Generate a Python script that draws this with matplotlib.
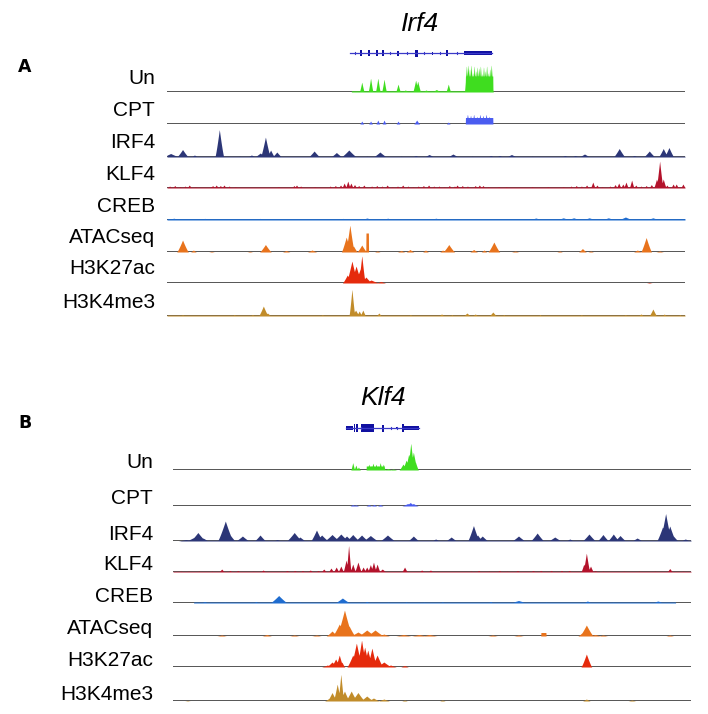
import numpy as np
import matplotlib
matplotlib.use("Agg")
import matplotlib.pyplot as plt
from matplotlib.patches import Rectangle

# track names (same order in both panels)
tracks = ["Un", "CPT", "IRF4", "KLF4", "CREB", "ATACseq", "H3K27ac", "H3K4me3"]
colors = ["#3fdd1f", "#4a5cf0", "#2c3677", "#b3122b", "#1f6ccf", "#e8731c", "#e52a0c", "#c18c2a"]

# ---------------- Irf4 locus (window position 0-100, signal in px) ----------
# peaks: (position, height, half width); blocks: (start, end, height)
irf4_un = [(37.6, 10, 0.25), (39.3, 14, 0.25), (40.7, 14, 0.25), (41.9, 13, 0.25),
           (44.6, 8, 0.25), (48.0, 12, 0.3), (48.4, 11, 0.3), (54.3, 8, 0.25),
           (46.0, 2, 0.5), (50.0, 2, 0.5), (52.0, 2.5, 0.5),
           (57.8, 27, 0.2), (58.1, 28, 0.2), (58.4, 24, 0.2), (58.7, 28, 0.2), (59.0, 20, 0.2),
           (59.3, 27, 0.2), (59.6, 22, 0.2), (59.9, 26, 0.2), (60.2, 25, 0.2), (60.5, 27, 0.2),
           (60.8, 19, 0.2), (61.1, 26, 0.2), (61.4, 22, 0.2), (61.7, 27, 0.2), (62.0, 20, 0.2),
           (62.3, 24, 0.2), (62.6, 28, 0.2)]
irf4_un_blocks = [(35.6, 57.6, 1.2), (57.6, 62.9, 16)]

irf4_cpt = [(37.6, 3, 0.2), (39.3, 3, 0.2), (40.7, 4, 0.2), (41.9, 4, 0.2), (44.6, 3, 0.2),
            (48.2, 4, 0.3), (54.3, 2, 0.2), (58.0, 10, 0.2), (58.6, 9, 0.2), (59.2, 10, 0.2),
            (59.8, 8, 0.2), (60.4, 10, 0.2), (61.0, 9, 0.2), (61.6, 10, 0.2), (62.2, 8, 0.2)]
irf4_cpt_blocks = [(57.6, 62.9, 6.5)]

irf4_irf4 = [(0.7, 3.5, 0.9), (3.0, 7.5, 0.6), (5.3, 2, 0.4), (10.1, 27.5, 0.45), (14.0, 1, 0.5),
             (16.3, 2, 0.5), (18.0, 4, 0.6), (19.0, 20, 0.5), (20.0, 7, 0.4), (21.2, 5, 0.5),
             (28.4, 6, 0.6), (32.7, 4.5, 0.6), (35.1, 7, 0.8), (38.6, 1, 0.5), (41.1, 5, 0.7),
             (45.2, 1, 0.5), (48.0, 1.5, 0.5), (50.6, 2.5, 0.6), (55.2, 3, 0.6), (58.9, 1, 0.5),
             (62.5, 1.5, 0.5), (64.2, 1.5, 0.5), (66.5, 2.5, 0.6), (70.5, 1, 0.5), (76.8, 1.5, 0.5),
             (78.8, 1.5, 0.5), (80.6, 3, 0.6), (87.3, 8.5, 0.6), (90.2, 1.5, 0.5), (93.1, 6, 0.6),
             (95.8, 8.5, 0.5), (96.9, 9.5, 0.5)]
irf4_irf4_blocks = [(0, 100, 0.8)]

irf4_klf4 = [(0.5, 2, 0.25), (1.5, 2.5, 0.25), (2.5, 1.5, 0.25), (3.5, 2, 0.25), (4.3, 3, 0.25),
             (5.5, 1.5, 0.25), (7.0, 1, 0.25), (8.5, 1.5, 0.25), (8.8, 2.5, 0.25), (9.5, 3, 0.25),
             (10.3, 2.5, 0.25), (11.0, 3, 0.25), (12.0, 2, 0.25), (13.2, 1.5, 0.25), (14.5, 1, 0.25),
             (15.5, 1, 0.25), (17.0, 1, 0.25), (18.5, 1, 0.25), (20.0, 1, 0.25), (21.5, 1.5, 0.25),
             (23.0, 1, 0.25), (24.5, 2.5, 0.25), (25.0, 3, 0.25), (25.8, 2, 0.25), (27.0, 1, 0.25),
             (28.5, 1.5, 0.25), (30.0, 1, 0.25), (31.5, 2, 0.25), (32.5, 2.5, 0.25), (33.5, 3, 0.25),
             (34.2, 5, 0.25), (34.9, 7, 0.25), (35.5, 5, 0.25), (36.2, 3.5, 0.25), (37.0, 2.5, 0.25),
             (38.0, 3, 0.25), (39.5, 2, 0.25), (40.5, 2.5, 0.25), (41.5, 2, 0.25), (42.5, 3, 0.25),
             (43.5, 1.5, 0.25), (44.5, 2, 0.25), (45.5, 3, 0.25), (46.5, 2, 0.25), (47.5, 1.5, 0.25),
             (48.5, 2, 0.25), (49.5, 2.5, 0.25), (50.5, 3, 0.25), (51.5, 2, 0.25), (52.5, 2, 0.25),
             (53.5, 1.5, 0.25), (54.5, 2.5, 0.25), (55.5, 2, 0.25), (56.0, 3, 0.25), (57.0, 2.5, 0.25),
             (58.0, 2, 0.25), (59.5, 2.5, 0.25), (60.3, 3, 0.25), (61.0, 2.5, 0.25), (62.0, 1.5, 0.25),
             (63.0, 1, 0.25), (64.0, 1.5, 0.25), (65.5, 1.5, 0.25), (67.0, 1, 0.25), (69.0, 1, 0.25),
             (70.5, 1.5, 0.25), (72.0, 1, 0.25), (73.5, 1.5, 0.25), (75.0, 1, 0.25), (76.5, 1.5, 0.25),
             (78.0, 2, 0.25), (79.0, 2.5, 0.25), (80.0, 2, 0.25), (81.0, 3, 0.25), (82.2, 6, 0.25),
             (83.0, 3, 0.25), (84.0, 1.5, 0.25), (85.5, 2, 0.25), (86.5, 3.5, 0.25), (87.2, 5, 0.25),
             (88.0, 4, 0.25), (88.6, 6, 0.25), (89.7, 8, 0.25), (90.5, 3, 0.25), (91.5, 2, 0.25),
             (92.5, 2.5, 0.25), (93.5, 3.5, 0.25), (94.5, 9, 0.3), (95.1, 27, 0.35), (95.8, 9, 0.3),
             (96.5, 3, 0.25), (97.7, 4, 0.25), (98.3, 4, 0.25), (99.6, 4, 0.25)]
irf4_klf4_blocks = [(0, 100, 1.0)]

irf4_creb = [(1.3, 1.8, 0.8), (7.3, 1.6, 1.2), (18.0, 1.6, 0.8), (28.6, 1.4, 0.8), (34.0, 1.6, 0.8),
             (38.6, 2, 0.8), (42.6, 1.8, 0.8), (51.9, 1.8, 0.8), (61.2, 1.4, 0.8), (71.2, 2, 0.8),
             (76.5, 2.2, 0.8), (78.5, 2.2, 0.8), (81.5, 2.2, 0.8), (85.2, 2.2, 0.8), (88.5, 3, 0.8),
             (93.8, 2.2, 0.8), (97.0, 1.5, 0.8)]
irf4_creb_blocks = [(0, 100, 1.4)]

irf4_atac = [(3.0, 12, 0.6), (5.1, 2, 0.3), (8.6, 0.7, 0.3), (16.0, 0.7, 0.3), (19.0, 7.5, 0.6),
             (23.0, 1.5, 0.4), (28.0, 2, 0.5), (34.6, 15, 0.5), (35.3, 27, 0.45), (36.0, 6, 0.4),
             (37.6, 7, 0.5), (40.6, 1, 0.3), (45.2, 1.5, 0.4), (46.9, 2.5, 0.4), (49.9, 2, 0.3),
             (53.2, 2, 0.3), (54.4, 7.5, 0.6), (59.2, 2.5, 0.4), (61.2, 2, 0.3), (63.1, 10, 0.6),
             (67.2, 1, 0.4), (75.8, 1, 0.3), (80.2, 3.5, 0.4), (81.8, 1, 0.3), (90.8, 2, 0.4),
             (92.5, 14.5, 0.55), (95.1, 1, 0.4)]
irf4_atac_blocks = [(38.4, 38.9, 19)]

irf4_k27ac = [(34.8, 8, 0.5), (35.7, 22, 0.6), (36.5, 17, 0.6), (37.6, 27.5, 0.35), (37.3, 14, 0.6),
              (38.4, 6, 0.6), (39.4, 3, 0.8), (41.3, 1.5, 0.5), (93.1, 0.6, 0.3)]
irf4_k27ac_blocks = []

irf4_k4me3 = [(1.0, 1, 0.4), (3.0, 1.5, 0.3), (5.0, 1, 0.3), (10.5, 1, 0.4), (13.0, 1.5, 0.3),
              (16.5, 1.5, 0.4), (18.6, 10, 0.5), (19.4, 3, 0.4), (22.0, 1, 0.3), (26.0, 1, 0.3),
              (30.0, 1.5, 0.3), (35.7, 27, 0.3), (36.4, 6, 0.4), (37.1, 5, 0.3), (37.8, 6, 0.3),
              (40.9, 3, 0.3), (44.0, 1, 0.3), (47.0, 1.5, 0.3), (50.0, 1, 0.3), (53.0, 2, 0.4),
              (55.0, 1.5, 0.3), (57.9, 3, 0.4), (59.5, 2, 0.4), (62.9, 4, 0.4), (65.0, 1.5, 0.3),
              (68.0, 1, 0.3), (72.0, 1.5, 0.3), (76.0, 1, 0.3), (80.0, 1.5, 0.3), (84.0, 1, 0.3),
              (88.5, 1.5, 0.3), (91.5, 2, 0.4), (93.8, 7, 0.4), (96.0, 2, 0.3), (99.0, 1.5, 0.3)]
irf4_k4me3_blocks = [(0, 100, 1.0)]

# Irf4 gene model: thin line, exons (position, half height, width), thick UTR
irf4_gene_span = (35.3, 62.7)
irf4_exons = [(37.5, 3, 0.35), (39.0, 3, 0.35), (40.5, 3, 0.3), (41.7, 3, 0.3), (44.6, 2.5, 0.25),
              (48.1, 3.5, 0.6), (51.2, 1.5, 0.2), (54.1, 3, 0.3)]
irf4_utr = [(57.3, 62.7, 2.2)]
irf4_arrows = [36.3, 43.0, 46.3, 49.6, 52.7, 56.0]

# ---------------- Klf4 locus ----------------
klf4_un = [(34.7, 7.5, 0.2), (35.3, 5, 0.2), (35.8, 3, 0.2), (37.8, 6, 0.2), (38.3, 4.5, 0.2),
           (38.6, 7, 0.2), (39.2, 6, 0.2), (39.6, 4.5, 0.2), (40.0, 7.5, 0.2), (40.6, 6, 0.2),
           (41.5, 1.5, 0.4), (42.5, 1, 0.4),
           (44.4, 6, 0.4), (45.0, 10, 0.4), (45.5, 16, 0.4), (45.9, 27, 0.35), (46.4, 18, 0.4),
           (46.8, 8, 0.3)]
klf4_un_blocks = [(34.4, 36.0, 1.2), (37.3, 40.8, 4)]

klf4_cpt = [(34.7, 1.5, 0.3), (35.3, 1.2, 0.3), (37.8, 1.5, 0.3), (38.8, 1.5, 0.3), (40.0, 1.5, 0.3),
            (45.3, 2.5, 0.6), (45.8, 3.5, 0.5), (46.4, 2.5, 0.5)]
klf4_cpt_blocks = []

klf4_irf4 = [(2.5, 1.5, 0.8), (4.0, 3.5, 0.8), (4.8, 8.5, 0.8), (5.8, 3, 0.6), (10.1, 20, 0.8),
             (10.9, 7, 0.6), (13.4, 5, 0.7), (16.8, 6, 0.6), (20.1, 1.5, 0.6), (23.4, 8.5, 0.8),
             (24.5, 4, 0.6), (27.7, 11, 0.6), (28.7, 6, 0.7), (30.7, 6.5, 0.8), (32.4, 7, 0.8),
             (33.5, 5, 0.6), (34.7, 6.5, 0.7), (36.4, 6, 0.7), (38.1, 5.5, 0.8), (41.4, 6, 0.8),
             (46.4, 5, 0.6), (50.7, 2, 0.5), (53.7, 4, 0.6), (58.0, 15.5, 0.6), (58.8, 6, 0.5),
             (59.7, 5, 0.6), (66.7, 5, 0.7), (70.3, 8, 0.7), (73.7, 4, 0.7), (76.6, 2, 0.5),
             (80.3, 7, 0.7), (83.0, 6.5, 0.6), (85.0, 7, 0.6), (86.3, 5.5, 0.6), (89.6, 3, 0.6),
             (94.5, 14, 0.6), (95.1, 27.5, 0.6), (95.9, 15, 0.6), (96.6, 5, 0.5), (98.9, 2, 0.6)]
klf4_irf4_blocks = [(2.0, 100, 0.8)]

klf4_klf4 = [(1.5, 1, 0.3), (3.0, 1, 0.3), (5.0, 1, 0.3), (7.5, 1, 0.3), (9.4, 3, 0.3),
             (11.0, 1.5, 0.3), (12.5, 1.5, 0.3), (15.5, 1, 0.3), (17.4, 2, 0.3), (22.0, 1.5, 0.3),
             (23.5, 1.5, 0.3), (25.0, 1.5, 0.3), (26.5, 2, 0.3), (28.0, 1.5, 0.3), (29.1, 3, 0.3),
             (30.5, 4, 0.3), (31.5, 5, 0.3), (32.4, 6, 0.3), (33.4, 12, 0.3), (33.9, 27, 0.25),
             (34.7, 8, 0.3), (35.7, 10, 0.35), (36.7, 5, 0.3), (37.4, 5, 0.3), (38.1, 7.5, 0.3),
             (38.7, 10, 0.3), (39.4, 8, 0.3), (40.4, 3, 0.4), (44.7, 5, 0.3), (48.0, 2, 0.3),
             (49.7, 2, 0.3), (57.5, 1, 0.3), (59.0, 1.5, 0.3), (61.0, 1, 0.3), (63.0, 1.5, 0.3),
             (64.5, 1, 0.3), (66.5, 1.5, 0.3), (69.5, 1.5, 0.3), (71.0, 1.5, 0.3), (73.0, 1.5, 0.3),
             (75.0, 1.5, 0.3), (76.5, 1.5, 0.3), (79.3, 8, 0.3), (79.8, 19, 0.35), (80.6, 6, 0.3),
             (81.5, 1.5, 0.3), (83.0, 1, 0.3), (87.0, 1, 0.3), (90.0, 1, 0.3), (93.0, 1, 0.3),
             (95.9, 3.5, 0.3), (98.5, 1, 0.3)]
klf4_klf4_blocks = [(0, 100, 0.7)]

klf4_creb = [(6.1, 1.5, 0.7), (10.0, 1.2, 0.6), (16.0, 1.5, 0.5), (20.4, 7.5, 0.9), (24.5, 1.2, 0.5),
             (32.7, 5, 0.8), (37.4, 1.5, 0.6), (41.5, 1.2, 0.5), (45.0, 1.3, 0.5), (48.5, 1.2, 0.5),
             (52.0, 1.3, 0.6), (61.3, 1.5, 0.6), (66.7, 2.5, 1.0), (72.0, 1.2, 0.5), (80.0, 2, 0.6),
             (85.0, 1.2, 0.5), (93.6, 2, 0.8)]
klf4_creb_blocks = [(4.0, 97.0, 1.0)]

klf4_atac = [(9.4, 1, 0.5), (18.1, 1.5, 0.5), (23.4, 1, 0.5), (27.7, 1, 0.5), (30.7, 5, 0.6),
             (32.1, 12, 0.7), (33.1, 26, 0.8), (34.0, 10, 0.6), (35.7, 4, 0.8), (37.4, 6, 0.9),
             (39.0, 6, 0.9), (40.7, 2, 0.6), (44.5, 1.5, 0.8), (47.5, 1.5, 0.8), (49.5, 1.5, 0.8),
             (61.7, 1, 0.5), (66.7, 1, 0.5), (79.1, 4, 0.5), (79.8, 11, 0.7), (81.5, 1.5, 0.6),
             (83.0, 1, 0.5), (95.9, 1, 0.4)]
klf4_atac_blocks = [(71.0, 72.0, 3.5)]

klf4_k27ac = [(29.8, 2, 0.6), (30.7, 5, 0.6), (31.4, 8, 0.5), (32.1, 12, 0.4), (32.6, 5, 0.3),
              (34.7, 12, 0.6), (35.4, 24, 0.6), (36.4, 27, 0.5), (37.0, 20, 0.5), (37.6, 17, 0.5),
              (38.4, 19, 0.5), (39.4, 12, 0.6), (40.7, 5, 0.8), (42.0, 2, 0.6), (44.7, 1.5, 0.4),
              (79.8, 13, 0.55)]
klf4_k27ac_blocks = []

klf4_k4me3 = [(2.8, 0.5, 0.3), (30.2, 3, 0.5), (30.7, 8.5, 0.5), (31.7, 17, 0.4), (32.4, 27, 0.3),
              (33.1, 10, 0.5), (34.4, 10, 0.6), (35.7, 8.5, 0.7), (37.4, 5, 0.7), (38.7, 3, 0.6),
              (40.7, 2, 0.6), (44.7, 1, 0.3), (52.0, 1, 0.3), (79.8, 2, 0.4), (88.6, 1, 0.4)]
klf4_k4me3_blocks = []

# Klf4 gene model
klf4_gene_span = (33.4, 47.5)
klf4_exons = [(35.1, 4, 0.25), (35.5, 4, 0.25), (37.5, 4, 2.5), (40.5, 3.5, 0.3), (43.2, 1, 0.15),
              (44.4, 4, 0.3)]
klf4_utr = [(33.4, 34.7, 1.8), (44.4, 47.5, 2)]
klf4_arrows = [36.2, 42.0, 43.2]

irf4_signals = [(irf4_un, irf4_un_blocks), (irf4_cpt, irf4_cpt_blocks), (irf4_irf4, irf4_irf4_blocks),
                (irf4_klf4, irf4_klf4_blocks), (irf4_creb, irf4_creb_blocks), (irf4_atac, irf4_atac_blocks),
                (irf4_k27ac, irf4_k27ac_blocks), (irf4_k4me3, irf4_k4me3_blocks)]
klf4_signals = [(klf4_un, klf4_un_blocks), (klf4_cpt, klf4_cpt_blocks), (klf4_irf4, klf4_irf4_blocks),
                (klf4_klf4, klf4_klf4_blocks), (klf4_creb, klf4_creb_blocks), (klf4_atac, klf4_atac_blocks),
                (klf4_k27ac, klf4_k27ac_blocks), (klf4_k4me3, klf4_k4me3_blocks)]

W, H = 708, 714
WIDTH_SCALE = 1.9  # peak widths were read as roughly half the visible base
fig = plt.figure(figsize=(W / 100, H / 100), dpi=100)
plt.rcParams['font.family'] = ['Liberation Sans', 'DejaVu Sans']

xs = np.linspace(0, 100, 3000)


def profile(peaks, blocks):
    y = np.zeros_like(xs)
    for s, e, h in blocks:
        y = np.where((xs >= s) & (xs <= e), np.maximum(y, h), y)
    for p, h, w in peaks:
        y = np.maximum(y, h * np.clip(1 - np.abs(xs - p) / (w * WIDTH_SCALE), 0, None) ** 1.2)
    return y


def draw_panel(signals, baselines, x0, x1, label_x, label_off, gene_y, gene_span, exons, utr, arrows,
               title, title_x, title_y, letter, letter_y):
    for name, col, (peaks, blocks), base in zip(tracks, colors, signals, baselines):
        ax = fig.add_axes([x0 / W, 1 - base / H, (x1 - x0) / W, 30 / H])
        ax.set_xlim(0, 100)
        ax.set_ylim(0, 30)
        ax.axis('off')
        ax.axhline(0, color='#383838', lw=1.2, zorder=1)
        ax.fill_between(xs, 0, profile(peaks, blocks), color=col, lw=0, zorder=2)
        fig.text(label_x / W, 1 - (base - label_off) / H, name, ha='right', va='center', fontsize=15)

    # gene model
    g = fig.add_axes([x0 / W, 1 - (gene_y + 10) / H, (x1 - x0) / W, 20 / H])
    g.set_xlim(0, 100)
    g.set_ylim(-10, 10)
    g.axis('off')
    g.plot(gene_span, [0, 0], color='#3a3ac8', lw=0.9)
    for p in arrows:
        g.plot([p, p], [-1.2, 1.2], color='#3a3ac8', lw=0.8)
    for s, e, hh in utr:
        g.add_patch(Rectangle((s, -hh), e - s, 2 * hh, color='#1010a0', lw=0))
    for p, hh, w in exons:
        g.add_patch(Rectangle((p - w / 2, -hh), w, 2 * hh, color='#1010a0', lw=0))

    fig.text(title_x / W, 1 - title_y / H, title, ha='center', va='center', fontsize=19, style='italic')
    fig.text(18 / W, 1 - letter_y / H, letter, ha='left', va='center', fontsize=12.5, fontweight='bold',
             family='DejaVu Sans')


draw_panel(irf4_signals, [92, 124, 157, 188, 220, 252, 283, 316], 167, 685, 155, 14, 53,
           irf4_gene_span, irf4_exons, irf4_utr, irf4_arrows, "Irf4", 420, 24, "A", 67)
draw_panel(klf4_signals, [470, 506, 541, 572, 603, 636, 667, 701], 173, 691, 153, 7, 428,
           klf4_gene_span, klf4_exons, klf4_utr, klf4_arrows, "Klf4", 383, 398, "B", 423)

fig.savefig("out.png", dpi=100)
